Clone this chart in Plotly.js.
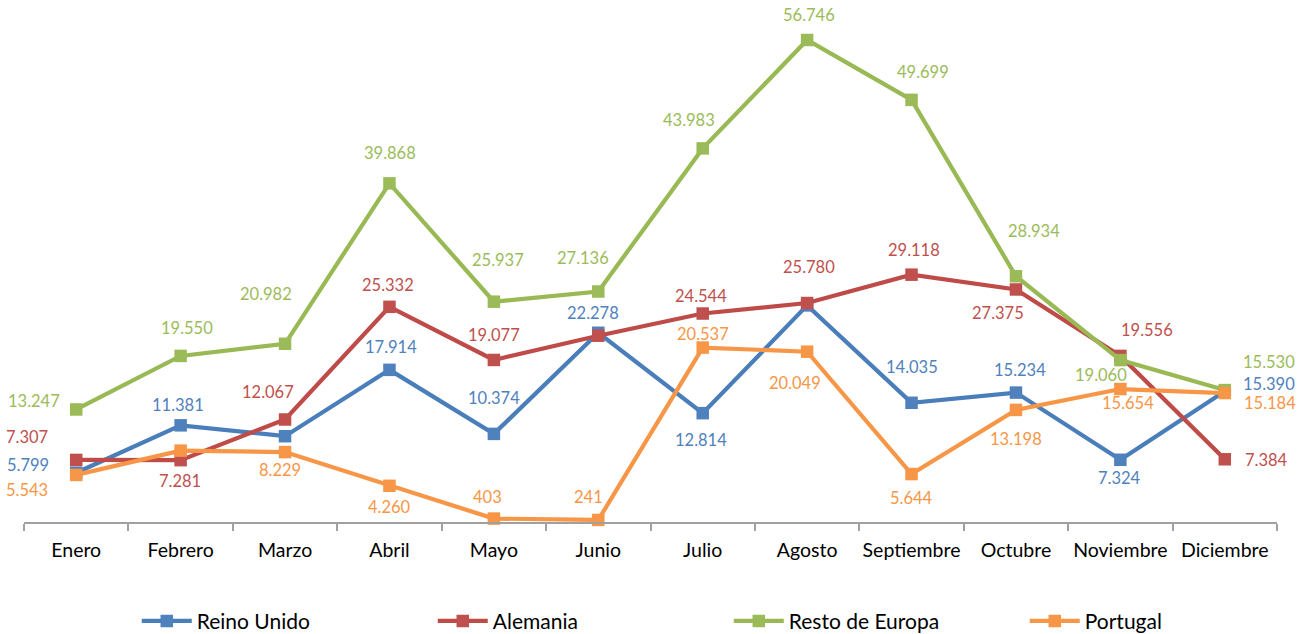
<!DOCTYPE html>
<html>
<head>
<meta charset="utf-8">
<script src="https://cdn.plot.ly/plotly-3.0.1.min.js"></script>
<style>
  html, body { margin: 0; padding: 0; background: #ffffff; }
  #chart { width: 1306px; height: 634px; }
</style>
</head>
<body>
<div id="chart"></div>
<script>
// ---- data ----
const months = ["Enero", "Febrero", "Marzo", "Abril", "Mayo", "Junio", "Julio",
                "Agosto", "Septiembre", "Octubre", "Noviembre", "Diciembre"];
const seriesNames = ["Reino Unido", "Alemania", "Resto de Europa", "Portugal"];
const reinoUnido   = [5799, 11381, 10100, 17914, 10374, 22278, 12814, 25500, 14035, 15234, 7324, 15390];
const alemania     = [7307, 7281, 12067, 25332, 19077, 21930, 24544, 25780, 29118, 27375, 19556, 7384];
const restoEuropa  = [13247, 19550, 20982, 39868, 25937, 27136, 43983, 56746, 49699, 28934, 19060, 15530];
const portugal     = [5543, 8400, 8229, 4260, 403, 241, 20537, 20049, 5644, 13198, 15654, 15184];

// ---- styling ----
const lineColors   = ["#4A7EBB", "#BE4B48", "#98B954", "#F79646"];
const labelColors  = ["#4F81BD", "#C0504D", "#9BBB59", "#F79646"];
const FONT = "Lato, 'Open Sans', Arial, sans-serif";

// label offsets (screen px: dx right, dy down); null = label not shown
const labelOffsets = [
  [[-48,-8],[-3,-20],null,[2,-23],[0,-36],[-5,-20],[-2,27],null,[0,-36],[4,-23],[-1,18],[44,-7]],
  [[-49,-23],[-1,21],[-17,-28],[-1,-22],[0,-25],null,[-2,-18],[2,-36],[2,-25],[-18,24],[27,-26],[42,1]],
  [[-42,-8],[6,-28],[-19,-50],[1,-30],[4,-42],[-15,-34],[-14,-28],[2,-25],[11,-28],[18,-45],[-19,15],[44,-28]],
  [[-49,15],null,[-5,18],[0,21],[-6,-22],[-10,-23],[0,-14],[-12,31],[0,24],[0,29],[8,14],[45,10]]
];

const allSeries = [reinoUnido, alemania, restoEuropa, portugal];

function fmt(v) {
  return String(v).replace(/\B(?=(\d{3})+(?!\d))/g, ".");
}

const traces = allSeries.map((vals, i) => ({
  type: "scatter",
  mode: "lines+markers",
  name: seriesNames[i],
  x: months,
  y: vals,
  line: { color: lineColors[i], width: 4.2 },
  marker: { symbol: "square", size: 12.5, color: labelColors[i] },
  cliponaxis: false,
  hoverinfo: "x+y+name"
}));

const annotations = [];
allSeries.forEach((vals, i) => {
  vals.forEach((v, j) => {
    const off = labelOffsets[i][j];
    if (!off) return;
    annotations.push({
      x: months[j], y: v, xref: "x", yref: "y",
      text: fmt(v), showarrow: false,
      xanchor: "center", yanchor: "middle",
      xshift: off[0], yshift: -off[1],
      font: { family: FONT, size: 16.5, color: labelColors[i] }
    });
  });
});

const layout = {
  width: 1306, height: 634,
  paper_bgcolor: "#ffffff", plot_bgcolor: "#ffffff",
  margin: { l: 23.5, r: 29, t: 20, b: 112, autoexpand: false },
  showlegend: true,
  legend: {
    orientation: "h",
    x: 0.09, xanchor: "left",
    y: -0.157, yanchor: "top",
    font: { family: FONT, size: 21, color: "#000000" },
    itemwidth: 50,
    entrywidth: 231,
    entrywidthmode: "pixels"
  },
  xaxis: {
    type: "category",
    range: [-0.5, 11.5],
    showgrid: false, zeroline: false,
    showline: true, linecolor: "#A0A0A0", linewidth: 2,
    ticks: "outside", tickson: "boundaries", ticklen: 7, tickwidth: 2, tickcolor: "#A0A0A0",
    tickfont: { family: FONT, size: 19.5, color: "#000000" },
    tickangle: 0,
    ticklabelstandoff: 10,
    fixedrange: true
  },
  yaxis: {
    visible: false,
    range: [0, 59100],
    showgrid: false, zeroline: false,
    fixedrange: true
  },
  annotations: annotations
};

Plotly.newPlot("chart", traces, layout, { displayModeBar: false, staticPlot: true });
</script>
</body>
</html>
